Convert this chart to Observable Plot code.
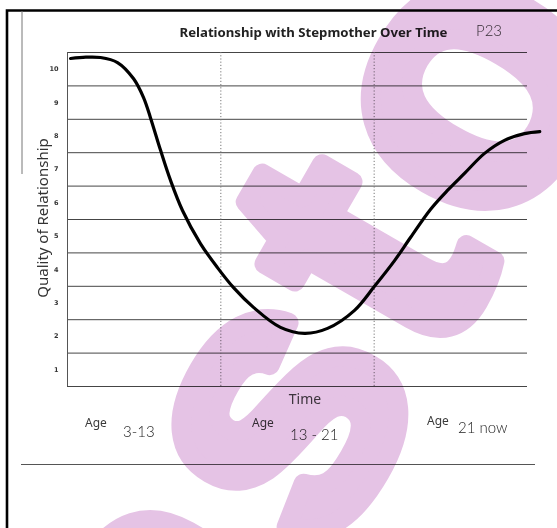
<!DOCTYPE html>
<html><head><meta charset="utf-8">
<script src="https://cdn.jsdelivr.net/npm/d3@7"></script>
<script src="https://cdn.jsdelivr.net/npm/@observablehq/plot@0.6"></script>
<style>
html,body{margin:0;padding:0;background:#fff;}
#chart{width:557px;height:528px;position:relative;overflow:hidden;}
#chart svg [aria-label^="y-axis"] text{font-size:6.5px;font-weight:bold;fill:#333;font-family:"DejaVu Sans",sans-serif;}
</style></head><body><div id="chart"></div>
<script>
const title = "Relationship with Stepmother Over Time";
const tag = "P23";
const yLabel = "Quality of Relationship";
const xLabel = "Time";
const yTicks = [1, 2, 3, 4, 5, 6, 7, 8, 9, 10];
const ageWord = "Age";
const periods = ["3-13", "13 - 21", "21 now"];
const dividers = [1, 2];
const curveX = [0.02, 0.12, 0.215, 0.326, 0.43, 0.496, 0.541, 0.607, 0.672, 0.75, 0.867, 0.978, 1.083, 1.213, 1.389, 1.546, 1.696, 1.872, 2.002, 2.133, 2.237, 2.367, 2.478, 2.589, 2.72, 2.85, 2.98, 3.08];
const curveY = [10.32, 10.36, 10.35, 10.2, 9.72, 9.15, 8.55, 7.57, 6.67, 5.77, 4.78, 4.06, 3.46, 2.87, 2.27, 2.09, 2.24, 2.78, 3.5, 4.27, 4.96, 5.8, 6.37, 6.88, 7.48, 7.87, 8.07, 8.13];
const watermark = "asto";

const points = curveX.map((x, i) => ({x, y: curveY[i]}));
const gridLines = [yTicks[0] - 0.5, ...yTicks.map(t => t + 0.5)];

const plot = Plot.plot({
  width: 557, height: 528,
  marginLeft: 67, marginRight: 30, marginTop: 52, marginBottom: 142,
  style: {background: "transparent", fontFamily: "'Noto Sans', sans-serif", overflow: "visible"},
  x: {domain: [0, 3], axis: null},
  y: {domain: [0.5, 10.5], ticks: yTicks, tickSize: 0, tickPadding: 9, label: null, tickFormat: d => String(d)},
  marks: [
    Plot.ruleY(gridLines, {stroke: "#454545", strokeWidth: 1}),
    Plot.ruleX([0], {stroke: "#555", strokeWidth: 1}),
    Plot.ruleX(dividers, {stroke: "#777", strokeWidth: 1, strokeDasharray: "1.2,2"}),
    Plot.line(points, {x: "x", y: "y", curve: "catmull-rom", stroke: "#000", strokeWidth: 3.2, strokeLinecap: "round", clip: false})
  ]
});
document.getElementById("chart").appendChild(plot);

const svg = d3.select(plot);
// page border and rules of the scanned sheet
svg.append("path").attr("d", "M7,528V10.5H557").attr("fill", "none").attr("stroke", "#000").attr("stroke-width", 2.6);
svg.append("line").attr("x1", 22).attr("x2", 22).attr("y1", 11).attr("y2", 174).attr("stroke", "#777").attr("stroke-width", 1);
svg.append("line").attr("x1", 21).attr("x2", 535).attr("y1", 464.5).attr("y2", 464.5).attr("stroke", "#555").attr("stroke-width", 1);

const txt = (s, x, y, o) => {
  const t = svg.append("text").attr("x", x).attr("y", y).text(s)
    .attr("font-family", o.family || "'Noto Sans', sans-serif")
    .attr("font-size", o.size).attr("fill", o.fill || "#333")
    .attr("text-anchor", o.anchor || "start");
  if (o.weight) t.attr("font-weight", o.weight);
  if (o.transform) t.attr("transform", o.transform).attr("x", 0).attr("y", 0);
  return t;
};
txt(title, 313.5, 37, {size: 13.2, weight: "bold", fill: "#222", anchor: "middle"});
txt(tag, 476, 36, {size: 15, weight: 300, fill: "#3a3a3a", family: "Lato, sans-serif"});
txt(yLabel, 0, 0, {size: 15, fill: "#333", anchor: "middle", transform: "translate(48,218) rotate(-90)"});
txt(xLabel, 305, 404, {size: 14, fill: "#444", anchor: "middle"});
const ageX = [85, 252, 427], ageY = [427, 427, 425];
const perX = [123, 290, 458], perY = [437, 440, 433];
periods.forEach((p, i) => {
  txt(ageWord, ageX[i], ageY[i], {size: 12, fill: "#3a3a3a"});
  txt(p, perX[i], perY[i], {size: 15, weight: 300, fill: "#222", family: "Lato, sans-serif"});
});

// pink watermark over the scan
svg.append("text").text(watermark)
  .attr("transform", "translate(420,396) rotate(-60)")
  .attr("text-anchor", "middle")
  .attr("font-family", "'Liberation Sans', sans-serif")
  .attr("font-weight", "bold")
  .attr("font-size", 380)
  .attr("letter-spacing", 14)
  .attr("fill", "#e5c3e5")
  .attr("stroke", "#e5c3e5")
  .attr("stroke-width", 20)
  .attr("stroke-linejoin", "round")
  .style("mix-blend-mode", "multiply");
</script></body></html>
